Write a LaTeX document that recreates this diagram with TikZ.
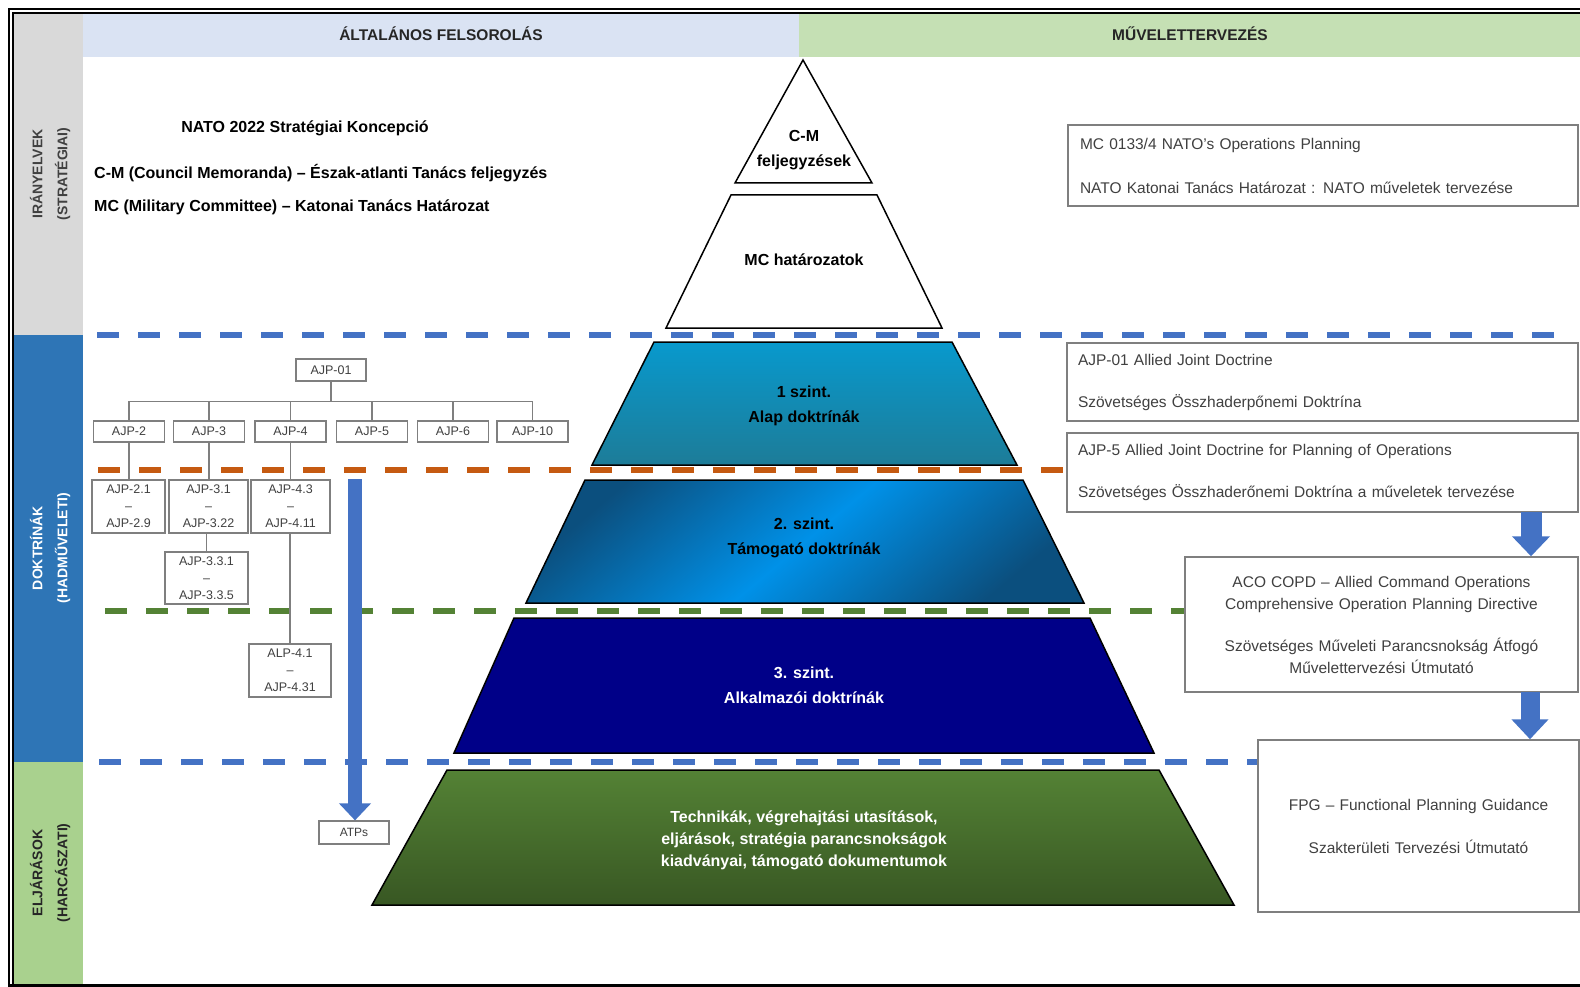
\documentclass[tikz,border=0pt]{standalone}
\usepackage{fontspec}
\setmainfont{Liberation Sans}
\usetikzlibrary{arrows.meta}
\definecolor{hdrblue}{HTML}{DAE3F3}
\definecolor{hdrgreen}{HTML}{C5E0B4}
\definecolor{colgray}{HTML}{D9D9D9}
\definecolor{colblue}{HTML}{2E75B6}
\definecolor{colgreen}{HTML}{A9D18E}
\definecolor{arrblue}{HTML}{4472C4}
\definecolor{dashorange}{HTML}{C55A11}
\definecolor{dashgreen}{HTML}{548235}
\definecolor{txtgray}{HTML}{404040}
\definecolor{txtdark}{HTML}{262626}
\definecolor{boxgray}{HTML}{7F7F7F}
\definecolor{tonetop}{HTML}{0899CD}
\definecolor{tonebot}{HTML}{1D7C98}
\definecolor{ttwodark}{HTML}{0B4F7E}
\definecolor{ttwobright}{HTML}{0091E8}
\definecolor{navyc}{HTML}{000088}
\definecolor{tfourtop}{HTML}{548235}
\definecolor{tfourbot}{HTML}{385723}
\begin{document}
\begin{tikzpicture}[x=1pt,y=-1pt,
  hdr/.style={font=\bfseries\fontsize{15.5}{18}\selectfont, text=txtdark},
  sidelbl/.style={font=\bfseries\fontsize{14}{25}\selectfont, rotate=90, align=center},
  bigtxt/.style={font=\bfseries\fontsize{16}{19}\selectfont, text=black, inner sep=0pt},
  pyrtxt/.style={font=\bfseries\fontsize{16}{25}\selectfont, align=center},
  pyrshape/.style={draw=black, line width=1.5pt},
  rbox/.style={draw=boxgray, line width=1.5pt, fill=white, font=\fontsize{15.5}{22}\selectfont, text=txtgray, inner ysep=0pt},
  tbox/.style={draw=boxgray, line width=1.2pt, fill=white, font=\fontsize{12.5}{17}\selectfont, text=txtgray, inner sep=0pt, align=center},
  tline/.style={draw=boxgray, line width=1.2pt},
  dline/.style={line width=5.5pt, dash pattern=on 22pt off 19pt},
  blkarrow/.style={draw=arrblue}
]
\useasboundingbox (0,0) rectangle (1580,987);
\fill[white] (0,0) rectangle (1580,987);
% bands
\fill[colgray] (13,13) rectangle (83,335);
\fill[colblue] (13,335) rectangle (83,762);
\fill[colgreen] (13,762) rectangle (83,985);
\fill[hdrblue] (83,13) rectangle (799,57);
\fill[hdrgreen] (799,13) rectangle (1580,57);
% frame
\draw[line width=2.5pt] (1580,9) -- (9,9) -- (9,985.5) -- (1580,985.5);
\draw[line width=1.8pt] (1580,13) -- (13,13) -- (13,985);
% headers
\node[hdr] (hl) at (441,34) {ÁLTALÁNOS FELSOROLÁS};
\node[hdr] (hr) at (1190,34) {MŰVELETTERVEZÉS};
% side labels
\node[sidelbl, text=txtgray] (s1) at (50,174) {IRÁNYELVEK\\(STRATÉGIAI)};
\node[sidelbl, text=white] (s2) at (50,548) {DOKTRÍNÁK\\(HADMŰVELETI)};
\node[sidelbl, text=txtdark] (s3) at (50,873) {ELJÁRÁSOK\\(HARCÁSZATI)};
% top-left text
\node[bigtxt] (nato) at (305,128) {NATO 2022 Stratégiai Koncepció};
\node[bigtxt, anchor=west] (cm) at (94,173) {C-M (Council Memoranda) – Észak-atlanti Tanács feljegyzés};
\node[bigtxt, anchor=west] (mc) at (94,207) {MC (Military Committee) – Katonai Tanács Határozat};
% dashed lines
\draw[dline, arrblue] (97,335) -- (1566,335);
\draw[dline, dashorange] (98,470) -- (1067,470);
\draw[dline, dashgreen, dash phase=22pt] (86,611) -- (1185,611);
\draw[dline, arrblue] (99,762) -- (1258,762);
% pyramid
\filldraw[pyrshape, fill=white] (803,60) -- (872,183) -- (735,183) -- cycle;
\filldraw[pyrshape, fill=white] (731,195) -- (877,195) -- (942,328) -- (666,328) -- cycle;
\shadedraw[pyrshape, top color=tonetop, bottom color=tonebot] (654,342) -- (952,342) -- (1017,465) -- (592,465) -- cycle;
\shadedraw[pyrshape, top color=ttwodark, bottom color=ttwodark, middle color=ttwobright, shading angle=40] (585,480) -- (1023,480) -- (1084,603) -- (526,603) -- cycle;
\filldraw[pyrshape, fill=navyc] (514,618) -- (1090,618) -- (1154,753) -- (454,753) -- cycle;
\shadedraw[pyrshape, top color=tfourtop, bottom color=tfourbot] (447,770) -- (1159,770) -- (1234,905) -- (372,905) -- cycle;
\node[pyrtxt] (pcm) at (804,150.5) {C-M\\feljegyzések};
\node[pyrtxt] (pmc) at (804,260) {MC határozatok};
\node[pyrtxt] (p1) at (804,405.5) {1 szint.\\Alap doktrínák};
\node[pyrtxt] (p2) at (804,537.5) {2. szint.\\Támogató doktrínák};
\node[pyrtxt, text=white] (p3) at (804,685.5) {3. szint.\\Alkalmazói doktrínák};
\node[pyrtxt, text=white, font=\bfseries\fontsize{16}{22}\selectfont] (p4) at (804,840) {Technikák, végrehajtási utasítások,\\eljárások, stratégia parancsnokságok\\kiadványai, támogató dokumentumok};
% tree
\node[tbox, minimum width=70pt, minimum height=22pt] (a01) at (331,370) {AJP-01};
\node[tbox, minimum width=71pt, minimum height=21pt] (a2) at (129,431.5) {AJP-2};
\node[tbox, minimum width=71pt, minimum height=21pt] (a3) at (209,431.5) {AJP-3};
\node[tbox, minimum width=71pt, minimum height=21pt] (a4) at (290.5,431.5) {AJP-4};
\node[tbox, minimum width=71pt, minimum height=21pt] (a5) at (372,431.5) {AJP-5};
\node[tbox, minimum width=71pt, minimum height=21pt] (a6) at (453,431.5) {AJP-6};
\node[tbox, minimum width=71pt, minimum height=21pt] (a10) at (532.5,431.5) {AJP-10};
\node[tbox, minimum width=73pt, minimum height=53pt] (a21) at (128.5,506.5) {AJP-2.1\\–\\AJP-2.9};
\node[tbox, minimum width=79pt, minimum height=53pt] (a31) at (208.5,506.5) {AJP-3.1\\–\\AJP-3.22};
\node[tbox, minimum width=79pt, minimum height=53pt] (a43) at (290.5,506.5) {AJP-4.3\\–\\AJP-4.11};
\node[tbox, minimum width=83pt, minimum height=52pt] (a331) at (206.5,578) {AJP-3.3.1\\–\\AJP-3.3.5};
\node[tbox, minimum width=82pt, minimum height=53pt] (a41) at (290,670.5) {ALP-4.1\\–\\AJP-4.31};
\foreach \c in {a2,a3,a4,a5,a6,a10} {
  \draw[tline] (a01.south) -- ++(0,20) -| (\c.north);
}
\draw[tline] (a2.south) -- (a2.south |- a21.north);
\draw[tline] (a3.south) -- (a3.south |- a31.north);
\draw[tline] (a4.south) -- (a4.south |- a43.north);
\draw[tline] (a331.north) -- (a331.north |- a31.south);
\draw[tline] (a41.north) -- (a41.north |- a43.south);
% ATPs and big arrow
\node[tbox, minimum width=70pt, minimum height=23pt, font=\fontsize{12}{14}\selectfont] (atps) at (354,832.5) {ATPs};
\coordinate (bigstart) at (355,479);
\draw[blkarrow, line width=14pt, -{Triangle[width=31pt,length=17pt]}] (bigstart) -- (bigstart |- atps.north);
% right boxes
\node[rbox, text width=486pt, inner xsep=12pt, minimum height=81pt, align=left] (b1) at (1323,165.5) {MC 0133/4 NATO's Operations Planning\\[22pt]NATO Katonai Tanács Határozat : NATO műveletek tervezése};
\node[rbox, text width=489pt, inner xsep=11pt, minimum height=78pt, align=left] (b2) at (1322.5,382) {AJP-01 Allied Joint Doctrine\\[20pt]Szövetséges Összhaderpőnemi Doktrína};
\node[rbox, text width=489pt, inner xsep=11pt, minimum height=79pt, align=left] (b3) at (1322.5,472.5) {AJP-5 Allied Joint Doctrine for Planning of Operations\\[20pt]Szövetséges Összhaderőnemi Doktrína a műveletek tervezése};
\node[rbox, text width=393pt, inner xsep=0pt, minimum height=135pt, align=center] (b4) at (1381.5,624.5) {ACO COPD – Allied Command Operations\\Comprehensive Operation Planning Directive\\[20pt]Szövetséges Műveleti Parancsnokság Átfogó\\Művelettervezési Útmutató};
\node[rbox, text width=321pt, inner xsep=0pt, minimum height=172pt, align=center] (b5) at (1418.5,826) {FPG – Functional Planning Guidance\\[21pt]Szakterületi Tervezési Útmutató};
% right arrows
\coordinate (ra1) at (1531,512);
\coordinate (ra2) at (1530,692);
\draw[blkarrow, line width=21pt, -{Triangle[width=37pt,length=20pt]}] (ra1) -- (ra1 |- b4.north);
\draw[blkarrow, line width=19pt, -{Triangle[width=36pt,length=20pt]}] (ra2) -- (ra2 |- b5.north);
\end{tikzpicture}
\end{document}
